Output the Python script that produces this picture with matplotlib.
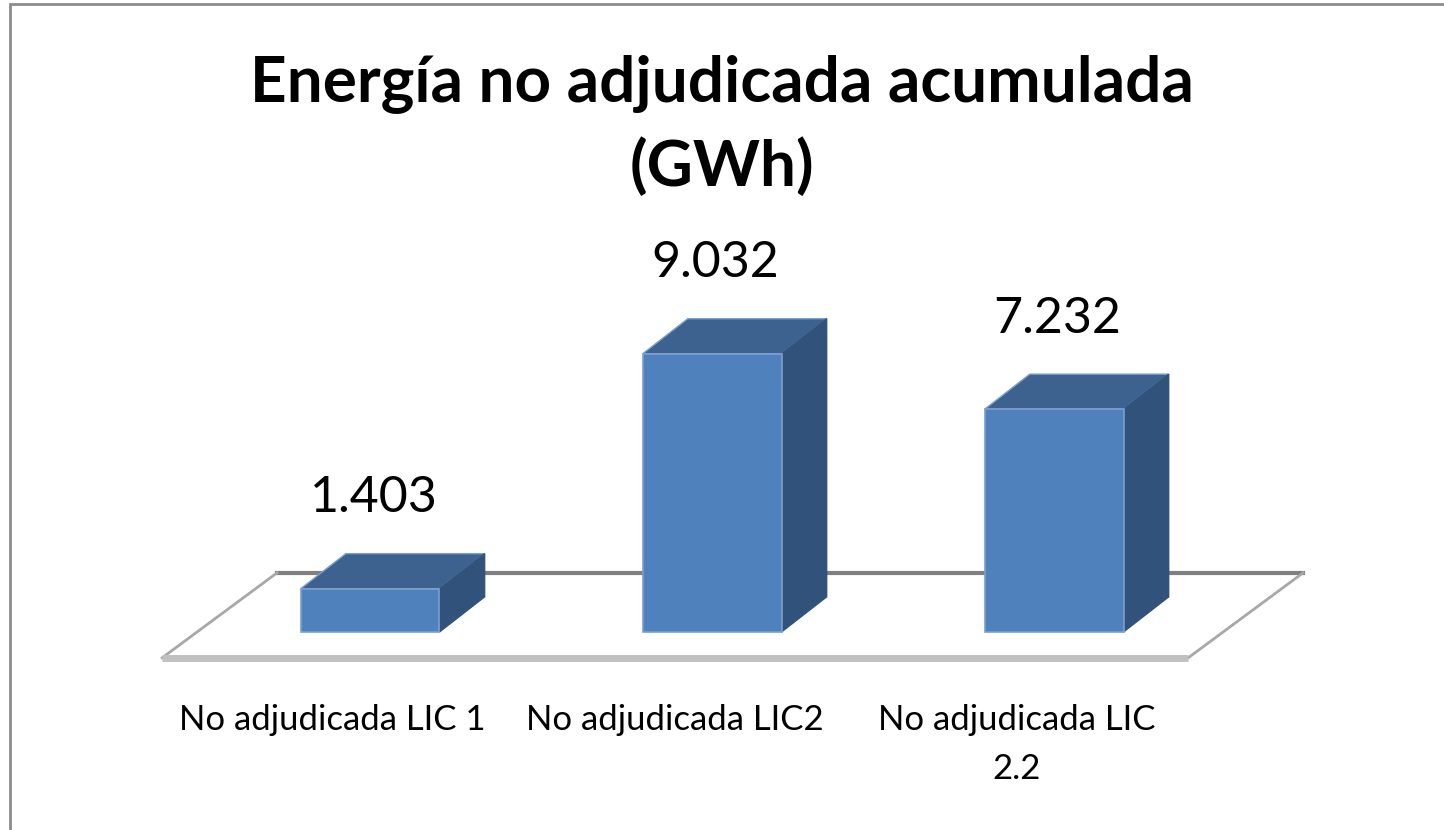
import matplotlib
matplotlib.use("Agg")
import matplotlib.pyplot as plt
from matplotlib.patches import Polygon, Rectangle

categories = ["No adjudicada LIC 1", "No adjudicada LIC2", "No adjudicada LIC\n2.2"]
values = [1.403, 9.032, 7.232]
value_labels = ["1.403", "9.032", "7.232"]

plt.rcParams['font.family'] = ['Lato', 'DejaVu Sans']

# excel-ish 3d colours
front_col = "#4f81bd"
top_col = "#3d628f"
side_col = "#31527a"
edge_col = "#7ba0cd"

fig = plt.figure(figsize=(14.44, 8.30), dpi=100)
ax = fig.add_axes([0, 0, 1, 1])
ax.set_xlim(-1.082, 3.140)
ax.set_ylim(-6.43, 20.52)
ax.axis("off")

# frame of the chart area (runs off the right and bottom edges)
fig.patches.append(Rectangle((10 / 1444, -0.05), 1.1, 1 - 4 / 830 + 0.05,
                             transform=fig.transFigure, fill=False,
                             edgecolor="#8c8c8c", linewidth=2))

# fake 3d depth
w = 0.406
ddx = 0.132
ddy = 1.14

# floor
fl_front, fl_back = -0.84, 1.92
fl_x0, fl_x1, fl_shift = -0.608, 2.392, 0.336
ax.plot([fl_x0 + fl_shift, fl_x1 + fl_shift], [fl_back, fl_back], color="#808080", lw=3, zorder=1)
ax.plot([fl_x0, fl_x0 + fl_shift], [fl_front, fl_back], color="#a8a8a8", lw=2, zorder=1)
ax.plot([fl_x1, fl_x1 + fl_shift], [fl_front, fl_back], color="#a8a8a8", lw=2, zorder=1)
ax.plot([fl_x0, fl_x1], [fl_front, fl_front], color="#c0c0c0", lw=5, solid_capstyle="butt", zorder=1)

xs = list(range(len(values)))
ax.bar(xs, values, width=w, color=front_col, edgecolor=edge_col, linewidth=1.2, zorder=3)

for x, v, lab in zip(xs, values, value_labels):
    left, right = x - w / 2, x + w / 2
    top = Polygon([(left, v), (left + ddx, v + ddy), (right + ddx, v + ddy), (right, v)],
                  closed=True, facecolor=top_col, edgecolor=edge_col, linewidth=1, zorder=2)
    side = Polygon([(right, 0), (right, v), (right + ddx, v + ddy), (right + ddx, ddy)],
                   closed=True, facecolor=side_col, edgecolor=side_col, linewidth=1, zorder=2)
    ax.add_patch(top)
    ax.add_patch(side)
    ax.text(x + 0.01, v + ddy + 1.8, lab, ha="center", va="center", fontsize=36)

for x, cat in zip(xs, categories):
    ax.text(x - 0.11, -2.35, cat, ha="center", va="top", fontsize=25, linespacing=1.65)

fig.text(0.5, 1 - 125 / 830, "Energía no adjudicada acumulada\n(GWh)", ha="center", va="center",
         fontsize=46, fontweight="bold", linespacing=1.45)

fig.savefig("out.png", dpi=100)
